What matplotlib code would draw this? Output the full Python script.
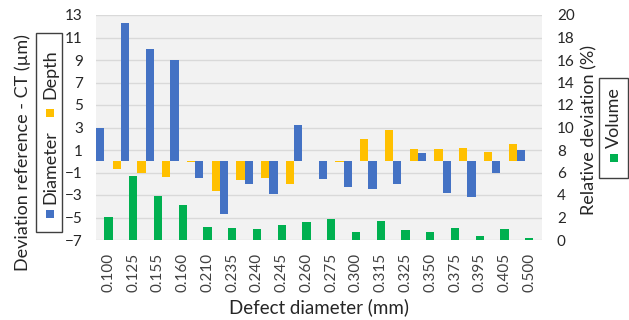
import matplotlib
matplotlib.use("Agg")
import matplotlib.pyplot as plt
from matplotlib.patches import Rectangle
import numpy as np

categories = ["0.100", "0.125", "0.155", "0.160", "0.210", "0.235", "0.240", "0.245", "0.260",
              "0.275", "0.300", "0.315", "0.325", "0.350", "0.375", "0.395", "0.405", "0.500"]
diameter = [3.0, 12.3, 10.0, 9.0, -1.5, -4.7, -2.0, -2.9, 3.2,
            -1.6, -2.3, -2.45, -2.0, 0.7, -2.8, -3.15, -1.0, 1.0]
depth = [-0.7, -1.0, -1.4, -0.08, -2.6, -1.65, -1.45, -2.05, 0.0,
         -0.1, 2.0, 2.8, 1.05, 1.1, 1.2, 0.8, 1.55, 0.0]
volume = [2.05, 5.7, 3.95, 3.15, 1.15, 1.05, 1.0, 1.3, 1.6,
          1.9, 0.75, 1.7, 0.9, 0.7, 1.05, 0.35, 1.0, 0.2]

BLUE = "#4472C4"
YELLOW = "#FFC000"
GREEN = "#00B050"
FONT = "Lato"
plt.rcParams["font.family"] = [FONT, "DejaVu Sans"]

W, H = 629, 320
fig = plt.figure(figsize=(W / 100, H / 100), dpi=100)
left, right, top, bottom = 96, 541.7, 15, 240
ax = fig.add_axes([left / W, 1 - bottom / H, (right - left) / W, (bottom - top) / H])
ax2 = ax.twinx()

x = np.arange(len(categories))
bw = 1 / 3
ax.set_facecolor("#F2F2F2")
ax.bar(x - bw, diameter, width=bw, color=BLUE, zorder=3)
ax.bar(x + bw, depth, width=bw, color=YELLOW, zorder=3)
ax2.bar(x, volume, width=bw, color=GREEN, zorder=3)

ax.set_xlim(-0.5, len(categories) - 0.5)
ax.set_ylim(-7, 13)
ax.set_yticks(np.arange(-7, 14, 2))
ax2.set_ylim(0, 20)
ax2.set_yticks(np.arange(0, 21, 2))
ax.yaxis.grid(True, color="#D9D9D9", linewidth=1.0, zorder=0)
ax.set_axisbelow(True)

ax.set_xticks(x)
ax.set_xticklabels(categories, rotation=90, fontsize=11, color="#404040")
for a in (ax, ax2):
    for s in a.spines.values():
        s.set_visible(False)
    a.tick_params(length=0)
ax.tick_params(axis="x", pad=9)
ax.tick_params(axis="y", labelsize=11, pad=9.5, labelcolor="#262626")
ax2.tick_params(axis="y", labelsize=11, pad=11, labelcolor="#262626")

ax.set_xlabel("Defect diameter (mm)", fontsize=13.5, color="#262626", labelpad=5)
fig.text(23 / W, 1 - 153 / H, "Deviation reference - CT (µm)", rotation=90,
         ha="center", va="center", fontsize=13, color="#262626")
fig.text(589 / W, 1 - 130 / H, "Relative deviation (%)", rotation=90,
         ha="center", va="center", fontsize=13, color="#262626")


def px_rect(x0, y0, x1, y1, **kw):
    r = Rectangle((x0 / W, 1 - y1 / H), (x1 - x0) / W, (y1 - y0) / H,
                  transform=fig.transFigure, **kw)
    fig.patches.append(r)


# left rotated legend
px_rect(36, 33.3, 62.3, 231.7, facecolor="white", edgecolor="#404040", linewidth=1.0)
px_rect(45.7, 210, 53.5, 218, facecolor=BLUE, edgecolor="none")
fig.text(50 / W, 1 - 167 / H, "Diameter", rotation=90, ha="center", va="center",
         fontsize=13, color="#262626")
px_rect(45.7, 108.5, 53.5, 116.5, facecolor=YELLOW, edgecolor="none")
fig.text(50 / W, 1 - 74 / H, "Depth", rotation=90, ha="center", va="center",
         fontsize=13, color="#262626")

# right rotated legend
px_rect(599.3, 78.3, 627.5, 178.3, facecolor="white", edgecolor="#404040", linewidth=1.0)
px_rect(609.5, 153.5, 617.5, 161.5, facecolor=GREEN, edgecolor="none")
fig.text(614 / W, 1 - 118 / H, "Volume", rotation=90, ha="center", va="center",
         fontsize=13, color="#262626")

fig.savefig("out.png", dpi=100)
